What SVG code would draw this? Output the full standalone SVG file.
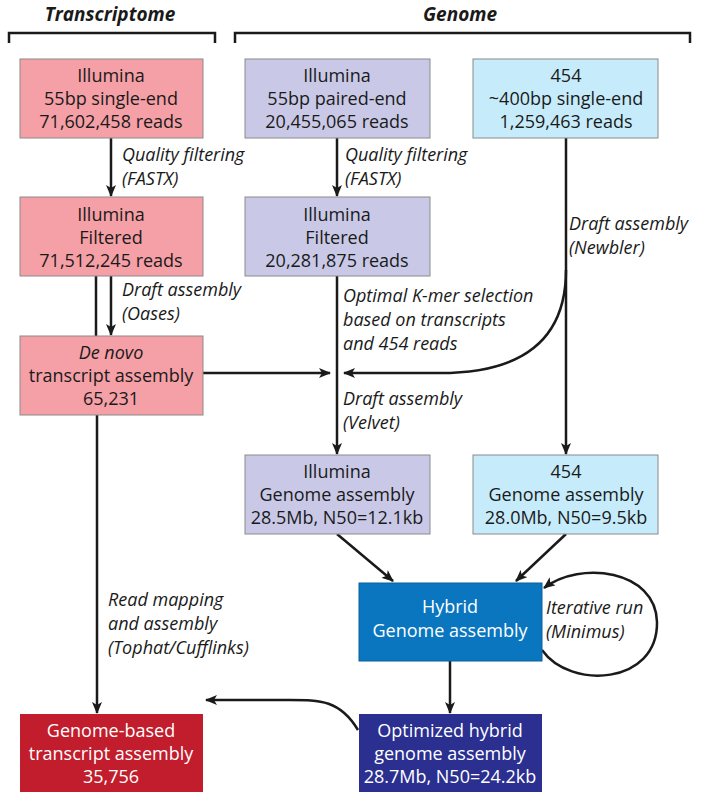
<svg xmlns="http://www.w3.org/2000/svg" width="702" height="800" viewBox="0 0 702 800">
<style>
text{font-family:"Open Sans","Liberation Sans",sans-serif;font-size:18px;fill:#1a1a1a}
.c{text-anchor:middle}
.w{fill:#fff}
.i{font-style:italic;font-size:18px}
.h{font-style:italic;font-weight:bold;font-size:19px}
.b{stroke:#8a8a8a;stroke-width:1}
.p{fill:#f5a0a6}.l{fill:#c9c9e7}.s{fill:#c6ecfb}
.ln{fill:none;stroke:#1a1a1a;stroke-width:2.5}
</style>
<defs><marker id="a" viewBox="0 0 12 10" refX="11" refY="5" markerWidth="12" markerHeight="10" markerUnits="userSpaceOnUse" orient="auto"><path d="M0,0 L12,5 L0,10 L3,5 Z" fill="#1a1a1a"/></marker></defs>
<g id="headers">
<text class="h c" x="110" y="21">Transcriptome</text>
<text class="h c" x="460" y="21">Genome</text>
<path class="ln" d="M9,43 V33 H215 V43 M235,43 V33 H690 V43"/>
</g>
<g id="connectors">
<path class="ln" d="M111,138 V196" marker-end="url(#a)"/>
<path class="ln" d="M337,138 V196" marker-end="url(#a)"/>
<path class="ln" d="M96,276 V336"/>
<path class="ln" d="M111,276 V335" marker-end="url(#a)"/>
<path class="ln" d="M203,373 H330" marker-end="url(#a)"/>
<path class="ln" d="M337,276 V454" marker-end="url(#a)"/>
<path class="ln" d="M566,138 V454" marker-end="url(#a)"/>
<path class="ln" d="M566,270 Q566,373 440,373 H344" marker-end="url(#a)"/>
<path class="ln" d="M97,415 V713" marker-end="url(#a)"/>
<path class="ln" d="M337,534 L393,581" marker-end="url(#a)"/>
<path class="ln" d="M566,534 L516,581" marker-end="url(#a)"/>
<path class="ln" d="M450,661 V713" marker-end="url(#a)"/>
<path class="ln" d="M542,650 C570,690 658,685 657,622 C656,570 580,560 544,588" marker-end="url(#a)"/>
<path class="ln" d="M358,730 C340,700 320,700 290,700 H206" marker-end="url(#a)"/>
<text class="i" x="122" y="161">Quality filtering</text>
<text class="i" x="122" y="185">(FASTX)</text>
<text class="i" x="345" y="161">Quality filtering</text>
<text class="i" x="345" y="185">(FASTX)</text>
<text class="i" x="122" y="296">Draft assembly</text>
<text class="i" x="122" y="320">(Oases)</text>
<text class="i" x="569" y="230">Draft assembly</text>
<text class="i" x="569" y="254">(Newbler)</text>
<text class="i" x="343" y="302">Optimal K-mer selection</text>
<text class="i" x="343" y="326">based on transcripts</text>
<text class="i" x="343" y="350">and 454 reads</text>
<text class="i" x="343" y="405">Draft assembly</text>
<text class="i" x="343" y="429">(Velvet)</text>
<text class="i" x="546" y="614">Iterative run</text>
<text class="i" x="546" y="638">(Minimus)</text>
<text class="i" x="108" y="606">Read mapping</text>
<text class="i" x="108" y="630">and assembly</text>
<text class="i" x="108" y="654">(Tophat/Cufflinks)</text>
</g>
<g id="t1"><rect class="b p" x="20" y="59" width="183" height="79"/><text class="c" x="111" y="82">Illumina</text><text class="c" x="111" y="105">55bp single-end</text><text class="c" x="111" y="128">71,602,458 reads</text></g>
<g id="g1"><rect class="b l" x="245" y="59" width="185" height="79"/><text class="c" x="337" y="82">Illumina</text><text class="c" x="337" y="105">55bp paired-end</text><text class="c" x="337" y="128">20,455,065 reads</text></g>
<g id="g454"><rect class="b s" x="473" y="59" width="185" height="79"/><text class="c" x="566" y="82">454</text><text class="c" x="566" y="105">~400bp single-end</text><text class="c" x="566" y="128">1,259,463 reads</text></g>
<g id="t2"><rect class="b p" x="20" y="197" width="183" height="79"/><text class="c" x="111" y="221">Illumina</text><text class="c" x="111" y="244">Filtered</text><text class="c" x="111" y="267">71,512,245 reads</text></g>
<g id="g2"><rect class="b l" x="245" y="197" width="185" height="79"/><text class="c" x="337" y="221">Illumina</text><text class="c" x="337" y="244">Filtered</text><text class="c" x="337" y="267">20,281,875 reads</text></g>
<g id="t3"><rect class="b p" x="20" y="336" width="183" height="79"/><text class="c" x="111" y="359"><tspan font-style="italic">De novo</tspan></text><text class="c" x="111" y="382">transcript assembly</text><text class="c" x="111" y="405">65,231</text></g>
<g id="g3"><rect class="b l" x="245" y="455" width="185" height="79"/><text class="c" x="337" y="478">Illumina</text><text class="c" x="337" y="501">Genome assembly</text><text class="c" x="337" y="524">28.5Mb, N50=12.1kb</text></g>
<g id="g454b"><rect class="b s" x="473" y="455" width="185" height="79"/><text class="c" x="566" y="478">454</text><text class="c" x="566" y="501">Genome assembly</text><text class="c" x="566" y="524">28.0Mb, N50=9.5kb</text></g>
<g id="hybrid"><rect x="359" y="583" width="183" height="78" fill="#0a76c0" stroke="#0a5f9e"/><text class="c w" x="450" y="613">Hybrid</text><text class="c w" x="450" y="637">Genome assembly</text></g>
<g id="gb"><rect x="20" y="714" width="183" height="78" fill="#c11d2c"/><text class="c w" x="111" y="737">Genome-based</text><text class="c w" x="111" y="760">transcript assembly</text><text class="c w" x="111" y="783">35,756</text></g>
<g id="opt"><rect x="359" y="714" width="183" height="78" fill="#2a2f90"/><text class="c w" x="450" y="737">Optimized hybrid</text><text class="c w" x="450" y="760">genome assembly</text><text class="c w" x="450" y="783">28.7Mb, N50=24.2kb</text></g>
</svg>
